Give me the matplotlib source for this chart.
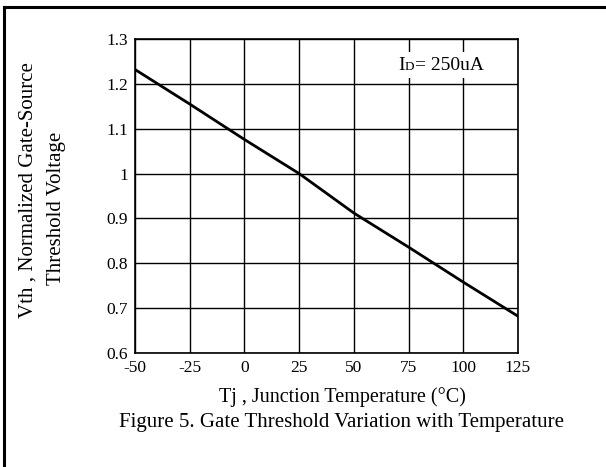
import matplotlib
matplotlib.use("Agg")
import matplotlib.pyplot as plt
from matplotlib.lines import Line2D
from matplotlib.offsetbox import TextArea, HPacker, AnchoredOffsetbox

plt.rcParams['font.family'] = ['Liberation Serif', 'DejaVu Serif']

# data
temp = [-50, -25, 0, 25, 50, 75, 100, 125]
vth_norm = [1.232, 1.155, 1.076, 1.0, 0.912, 0.836, 0.758, 0.682]

xticks = [-50, -25, 0, 25, 50, 75, 100, 125]
xtick_labels = ['-50', '-25', '0', '25', '50', '75', '100', '125']
yticks = [0.6, 0.7, 0.8, 0.9, 1.0, 1.1, 1.2, 1.3]
ytick_labels = ['0.6', '0.7', '0.8', '0.9', '1', '1.1', '1.2', '1.3']

W, H = 606, 467
fig = plt.figure(figsize=(W / 100, H / 100), dpi=100)
ax = fig.add_axes([135 / W, 1 - 353 / H, (518 - 135) / W, (353 - 39) / H])

ax.plot(temp, vth_norm, color='black', linewidth=2.0, zorder=3)

ax.set_xlim(-50, 125)
ax.set_ylim(0.6, 1.3)
ax.set_xticks(xticks, xtick_labels)
ax.set_yticks(yticks, ytick_labels)
ax.tick_params(length=0, labelsize=12.5, pad=5)
ax.grid(True, color='black', linewidth=1.0)
for s in ax.spines.values():
    s.set_linewidth(1.2)

# ID = 250uA label with small "D"
parts = [TextArea('I', textprops=dict(size=14)),
         TextArea('D', textprops=dict(size=9.5)),
         TextArea('= 250uA', textprops=dict(size=14))]
box = HPacker(children=parts, align='baseline', pad=0, sep=0)
anch = AnchoredOffsetbox(loc='center', child=box, pad=0.3, frameon=True,
                         bbox_to_anchor=(441 / W, 1 - 65 / H),
                         bbox_transform=fig.transFigure, borderpad=0)
anch.patch.set_facecolor('white')
anch.patch.set_edgecolor('none')
ax.add_artist(anch)

# axis labels and caption
fig.text(342 / W, 1 - 397 / H, 'Tj , Junction Temperature (°C)',
         ha='center', va='center', fontsize=14.5)
fig.text(342 / W, 1 - 423 / H, 'Figure 5. Gate Threshold Variation with Temperature',
         ha='center', va='center', fontsize=15)
fig.text(28 / W, 1 - 190 / H, 'Vth , Normalized Gate-Source',
         ha='center', va='center', rotation=90, fontsize=15)
fig.text(57 / W, 1 - 208 / H, 'Threshold Voltage',
         ha='center', va='center', rotation=90, fontsize=15)

# page border (top and left only)
fig.add_artist(Line2D([4 / W, 1], [1 - 7 / H, 1 - 7 / H], color='black', linewidth=2.2))
fig.add_artist(Line2D([4 / W, 4 / W], [0, 1 - 7 / H], color='black', linewidth=2.2))

fig.savefig('out.png', dpi=100)
